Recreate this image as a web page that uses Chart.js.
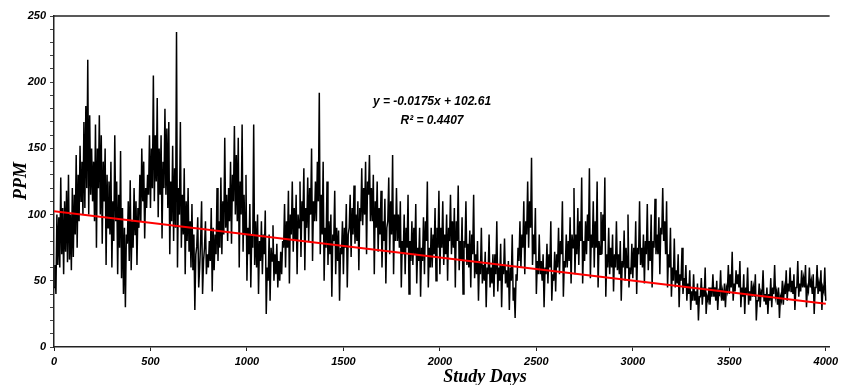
<!DOCTYPE html>
<html>
<head>
<meta charset="utf-8">
<script src="https://cdn.jsdelivr.net/npm/chart.js@4/dist/chart.umd.min.js"></script>
<style>
  html, body { margin: 0; padding: 0; background: #fff; }
  #wrap { width: 842px; height: 385px; position: relative; }
</style>
</head>
<body>
<div id="wrap"><canvas id="ppmChart"></canvas></div>
<script>
// PPM readings, one value every 5 study days starting at day 0
const dayStep = 5;
const ppm = [
  45, 62, 40, 100, 62, 98, 60, 128, 70, 105, 55, 110, 72, 118, 64, 130, 66, 100, 58, 120,
  68, 115, 85, 145, 75, 130, 95, 152, 110, 140, 100, 170, 105, 182, 120, 217, 100, 175, 115, 150,
  110, 140, 95, 168, 75, 150, 120, 175, 100, 160, 78, 140, 110, 150, 62, 130, 90, 125, 85, 140,
  60, 110, 80, 160, 95, 125, 55, 115, 75, 148, 52, 105, 40, 90, 30, 85, 78, 110, 65, 126,
  58, 95, 75, 120, 85, 110, 62, 105, 90, 130, 95, 150, 110, 140, 82, 120, 105, 130, 115, 160,
  105, 150, 120, 205, 110, 160, 125, 188, 98, 150, 115, 160, 82, 140, 120, 180, 115, 165, 105, 170,
  70, 125, 95, 152, 80, 135, 90, 238, 60, 120, 100, 170, 75, 115, 85, 135, 55, 110, 80, 120,
  72, 95, 60, 108, 58, 85, 28, 70, 76, 98, 45, 60, 80, 110, 40, 65, 75, 95, 55, 70,
  60, 80, 65, 105, 42, 90, 58, 85, 70, 120, 65, 95, 75, 128, 70, 110, 85, 158, 90, 115,
  80, 120, 95, 140, 78, 130, 110, 167, 100, 145, 95, 158, 60, 125, 100, 168, 72, 115, 85, 130,
  50, 90, 70, 108, 45, 85, 75, 168, 62, 95, 60, 100, 40, 80, 65, 95, 55, 85, 70, 103,
  25, 60, 50, 85, 35, 75, 65, 92, 50, 70, 55, 78, 45, 65, 50, 72, 55, 80, 75, 108,
  60, 95, 75, 118, 48, 100, 85, 125, 72, 105, 80, 115, 55, 100, 90, 125, 68, 110, 95, 135,
  58, 105, 90, 128, 80, 120, 100, 150, 65, 110, 95, 125, 95, 140, 110, 192, 70, 115, 85, 140,
  50, 90, 75, 125, 62, 95, 70, 100, 38, 85, 80, 118, 55, 90, 65, 88, 35, 75, 70, 95,
  55, 90, 75, 108, 45, 85, 90, 115, 68, 105, 85, 122, 78, 100, 80, 110, 58, 105, 95, 135,
  92, 120, 100, 140, 70, 125, 115, 145, 95, 120, 95, 130, 55, 110, 90, 125, 72, 105, 85, 118,
  60, 95, 80, 112, 48, 90, 95, 128, 70, 110, 85, 145, 55, 100, 80, 120, 80, 100, 75, 110,
  45, 80, 70, 100, 55, 90, 75, 115, 40, 80, 65, 95, 62, 90, 70, 108, 48, 75, 65, 90,
  38, 75, 65, 98, 55, 95, 80, 125, 45, 75, 60, 90, 60, 85, 70, 105, 50, 90, 75, 118,
  55, 90, 75, 110, 62, 85, 70, 100, 50, 90, 80, 115, 70, 95, 75, 105, 45, 95, 80, 122,
  58, 80, 65, 98, 40, 80, 75, 110, 62, 78, 60, 88, 45, 85, 70, 115, 52, 70, 55, 80,
  35, 65, 55, 90, 48, 62, 50, 72, 30, 60, 55, 85, 45, 60, 48, 70, 38, 70, 55, 95,
  42, 60, 50, 78, 30, 62, 55, 82, 48, 58, 45, 65, 28, 60, 50, 85, 35, 45, 22, 55,
  50, 75, 65, 95, 60, 85, 75, 110, 55, 95, 85, 125, 75, 110, 90, 143, 62, 85, 70, 105,
  40, 65, 55, 85, 55, 65, 50, 70, 30, 60, 55, 78, 48, 70, 60, 95, 35, 55, 50, 72,
  42, 70, 60, 90, 55, 80, 70, 110, 38, 65, 60, 85, 60, 80, 65, 98, 48, 85, 75, 120,
  55, 85, 70, 105, 62, 95, 80, 128, 48, 80, 65, 95, 70, 100, 80, 135, 52, 85, 75, 110,
  60, 95, 75, 125, 45, 80, 70, 102, 70, 100, 80, 128, 38, 70, 60, 90, 55, 75, 60, 85,
  42, 70, 60, 95, 58, 70, 55, 80, 35, 65, 60, 88, 50, 75, 60, 100, 45, 60, 55, 78,
  52, 75, 60, 95, 40, 75, 70, 110, 62, 75, 60, 85, 48, 80, 70, 108, 58, 80, 65, 100,
  45, 80, 75, 112, 70, 85, 70, 98, 55, 90, 85, 120, 80, 95, 70, 110, 45, 70, 60, 90,
  38, 60, 50, 82, 45, 58, 48, 70, 30, 55, 50, 75, 40, 52, 45, 62, 35, 48, 40, 58,
  28, 42, 35, 55, 35, 42, 32, 48, 20, 38, 38, 52, 32, 45, 38, 60, 25, 38, 35, 45,
  32, 45, 38, 55, 38, 45, 35, 50, 28, 42, 40, 58, 35, 42, 35, 48, 30, 45, 42, 62,
  40, 55, 45, 72, 35, 48, 42, 58, 48, 55, 45, 65, 30, 45, 38, 55, 25, 45, 40, 60,
  32, 42, 35, 50, 38, 45, 38, 55, 20, 35, 35, 48, 30, 42, 40, 58, 35, 40, 32, 45,
  25, 40, 35, 52, 30, 45, 40, 62, 38, 42, 32, 45, 22, 38, 35, 50, 32, 45, 40, 58,
  35, 48, 42, 60, 42, 50, 40, 55, 28, 45, 45, 65, 38, 48, 42, 58, 45, 52, 45, 62,
  30, 45, 42, 60, 45, 50, 40, 55, 25, 45, 45, 62, 40, 48, 42, 58, 28, 45, 42, 60,
  35
];
const days = ppm.map((_, i) => i * dayStep);

// linear fit shown on the chart: y = -0.0175x + 102.61
const trendDays = [0, 4000];
const trendValues = [102.61, 32.61];
const fitText = ['y = -0.0175x + 102.61', 'R² = 0.4407'];

const xTicks = [0, 500, 1000, 1500, 2000, 2500, 3000, 3500, 4000];
const yTicks = [0, 50, 100, 150, 200, 250];

const tickFont = { family: '"Liberation Sans", Arial, sans-serif', size: 11, weight: 'bold', style: 'italic' };

const extras = {
  id: 'extras',
  afterDraw(chart) {
    const { ctx, chartArea } = chart;
    ctx.save();
    // top frame line
    ctx.strokeStyle = '#222';
    ctx.lineWidth = 1.5;
    ctx.beginPath();
    ctx.moveTo(chartArea.left, chartArea.top);
    ctx.lineTo(chartArea.right, chartArea.top);
    ctx.stroke();

    // axis titles
    ctx.fillStyle = '#000';
    ctx.font = 'italic bold 18px "Liberation Serif", "Times New Roman", serif';
    ctx.textAlign = 'center';
    ctx.textBaseline = 'middle';
    ctx.fillText('Study Days', 485, 377);
    ctx.save();
    ctx.translate(21, 181);
    ctx.rotate(-Math.PI / 2);
    ctx.fillText('PPM', 0, 0);
    ctx.restore();

    // regression equation
    ctx.font = 'italic bold 12px "Liberation Sans", Arial, sans-serif';
    ctx.fillText(fitText[0], 432, 102);
    ctx.fillText(fitText[1], 432, 121);
    ctx.restore();
  }
};

const ctx = document.getElementById('ppmChart').getContext('2d');
new Chart(ctx, {
  type: 'line',
  data: {
    datasets: [
      {
        label: 'PPM',
        data: days.map((d, i) => ({ x: d, y: ppm[i] })),
        borderColor: '#000',
        borderWidth: 1.5,
        pointRadius: 0,
        tension: 0,
        order: 2
      },
      {
        label: 'Trend',
        data: trendDays.map((d, i) => ({ x: d, y: trendValues[i] })),
        borderColor: '#ff0000',
        borderWidth: 2,
        pointRadius: 0,
        order: 1
      }
    ]
  },
  options: {
    responsive: true,
    maintainAspectRatio: false,
    animation: false,
    layout: { padding: { top: 16, right: 0, left: 0, bottom: 0 } },
    plugins: { legend: { display: false }, tooltip: { enabled: false } },
    scales: {
      x: {
        type: 'linear',
        min: 0,
        max: 4020,
        afterBuildTicks: (axis) => { axis.ticks = xTicks.map(v => ({ value: v })); },
        afterFit: (axis) => { axis.height = 38; },
        border: { color: '#222', width: 1.5 },
        grid: { drawOnChartArea: false, tickLength: 4, color: '#222' },
        ticks: { font: tickFont, color: '#000', padding: 4, maxRotation: 0, autoSkip: false, callback: (v) => String(v) }
      },
      y: {
        min: 0,
        max: 250,
        afterBuildTicks: (axis) => {
          const t = [];
          for (let v = 0; v <= 250; v += 10) t.push({ value: v });
          axis.ticks = t;
        },
        afterFit: (axis) => { axis.width = 54; },
        border: { color: '#222', width: 1.5 },
        grid: { drawOnChartArea: false, tickLength: 4, color: '#444' },
        ticks: {
          font: tickFont,
          color: '#000',
          padding: 4,
          autoSkip: false,
          callback: (v) => (yTicks.includes(v) ? String(v) : '')
        }
      }
    }
  },
  plugins: [extras]
});
</script>
</body>
</html>
